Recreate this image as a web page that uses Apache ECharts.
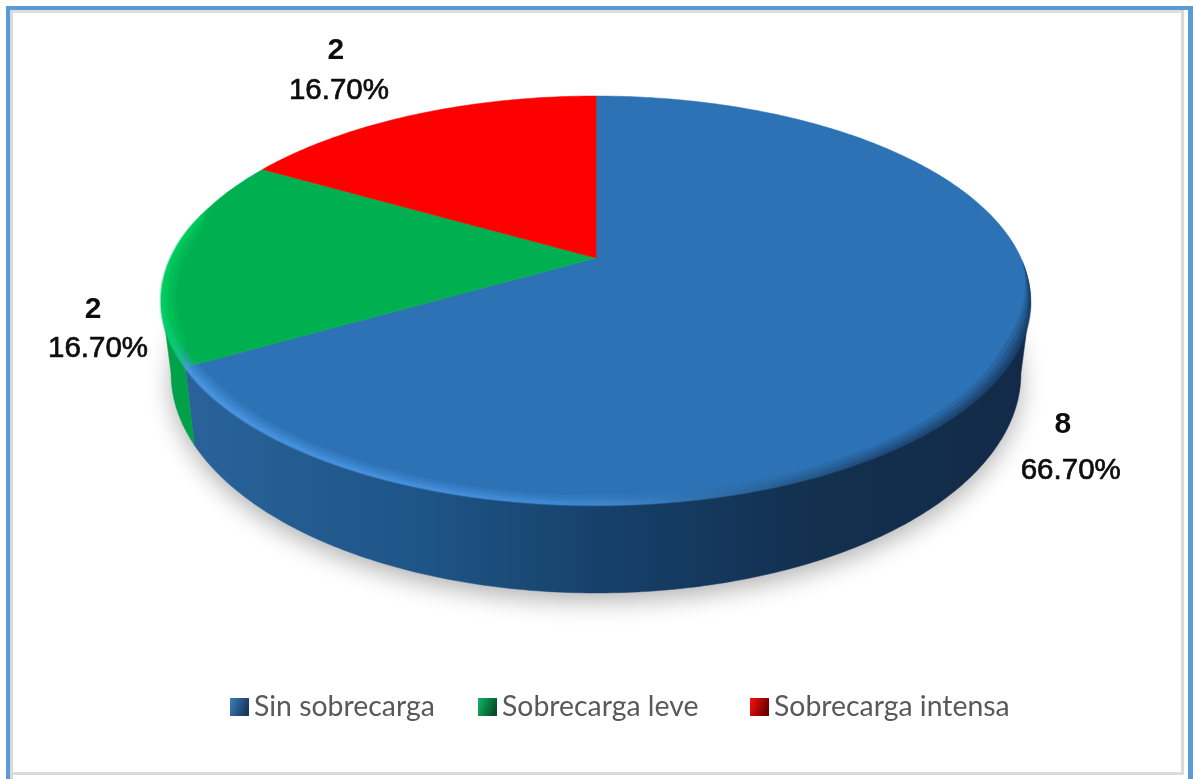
<!DOCTYPE html>
<html>
<head>
<meta charset="utf-8">
<style>html,body{margin:0;padding:0;background:#fff}#chart{width:1193px;height:779px}</style>
<script src="https://cdn.jsdelivr.net/npm/echarts@6/dist/echarts.min.js"></script>
</head>
<body>
<div id="chart"></div>
<script>
// Workload categories and their counts / stated shares
var categories = ['Sin sobrecarga', 'Sobrecarga leve', 'Sobrecarga intensa'];
var counts = [8, 2, 2];
var shareLabels = ['66.70%', '16.70%', '16.70%'];
var total = counts.reduce(function (a, b) { return a + b; }, 0);

// Perspective disc: centre of the pie, half width, vertical projective terms, wall depth
var disc = { cx: 596, A: 425, a: 142.05, b: 258, c: -0.2078, depth: 69.7, taper: 0.022 };
var silhouette = Math.acos(disc.c);            // angle where the rim turns away on the right

function project(theta, radius, drop) {
  var u = radius * Math.sin(theta), v = -radius * Math.cos(theta), w = 1 + disc.c * v;
  return [disc.cx + disc.A * u / w * (1 - disc.taper * drop), (disc.a * v + disc.b) / w + drop * disc.depth / w];
}
function arc(from, to, radius, drop) {
  var pts = [], n = Math.max(2, Math.ceil(Math.abs(to - from) / 0.012));
  for (var i = 0; i <= n; i++) pts.push(project(from + (to - from) * i / n, radius, drop));
  return pts;
}
function hGrad(stops) {
  return new echarts.graphic.LinearGradient(162, 0, 1030, 0, stops, true);
}
// Crescent along the rim: full width mid-way, vanishing at both ends
function crescent(from, to, width) {
  var outer = [], inner = [], n = Math.max(2, Math.ceil(Math.abs(to - from) / 0.012));
  for (var i = 0; i <= n; i++) {
    var t = i / n, th = from + (to - from) * t;
    var k = Math.min(1, Math.min(t, 1 - t) * 7);
    outer.push(project(th, 1 + width * k * 0.15, 0));
    inner.unshift(project(th, 1 - width * k, 0));
  }
  return outer.concat(inner);
}

// Per-slice looks
var looks = [
  {
    top: '#2c72b5',
    wall: hGrad([{ offset: 0, color: '#2a649c' }, { offset: 0.3, color: '#1e5587' }, { offset: 0.52, color: '#163f69' },
                 { offset: 0.75, color: '#13304f' }, { offset: 1, color: '#122a48' }]),
    bevel: hGrad([{ offset: 0, color: '#4d99e6' }, { offset: 0.35, color: '#4692e0' }, { offset: 0.52, color: '#3f88d0' },
                  { offset: 0.66, color: '#2c689f' }, { offset: 0.8, color: '#1f4a78' }, { offset: 1, color: '#17395f' }])
  },
  { top: '#00b050', wall: '#00a148', bevel: '#00d060' },
  { top: '#ff0000', wall: '#c00000', bevel: null }
];

// Text anchors relative to the slice's outer rim midpoint
var labelOffsets = [
  { count: [56, 58], share: [64, 104] },
  { count: [-78, 52], share: [-73, 91] },
  { count: [-80, -64], share: [-77, -24] }
];
var valueFont = '"Liberation Sans", Arial, sans-serif';

function sliceRenderer(index) {
  return function (params, api) {
    var before = counts.slice(0, index).reduce(function (a, b) { return a + b; }, 0);
    var start = before / total * Math.PI * 2;
    var end = start + api.value(0) / total * Math.PI * 2;
    var look = looks[index];
    var kids = [];

    // Soft cast shadow under the lowered sector
    kids.push({
      type: 'polygon', z2: 0, silent: true,
      shape: { points: [project(0, 0, 1)].concat(arc(start, end, 1, 1)) },
      style: { fill: '#d8d8d8', shadowBlur: 24, shadowOffsetY: 8, shadowColor: 'rgba(0,0,0,0.3)' }
    });

    // Side wall, only for the part of the rim that faces the viewer
    var wStart = Math.max(start, silhouette), wEnd = Math.min(end, Math.PI * 2 - silhouette);
    if (wEnd > wStart) {
      kids.push({
        type: 'polygon', z2: 1,
        shape: { points: arc(wStart, wEnd, 1, 0).concat(arc(wEnd, wStart, 1, 1)) },
        style: { fill: look.wall, stroke: look.wall, lineWidth: 0.5 }
      });
    }

    // Top face
    kids.push({
      type: 'polygon', z2: 2,
      shape: { points: [project(0, 0, 0)].concat(arc(start, end, 1, 0)) },
      style: { fill: look.top, stroke: look.top, lineWidth: 0.5 }
    });

    // Rounded highlight along the front edge of the top face, built from nested crescents
    if (look.bevel) {
      var bFrom = index === 0 ? silhouette - 0.2 : start;
      var bTo = index === 0 ? end + 0.35 : start + 0.8;
      [[0.032, 0.22], [0.022, 0.3], [0.013, 0.45], [0.006, 0.6]].forEach(function (layer) {
        kids.push({
          type: 'polygon', z2: 3, silent: true,
          shape: { points: crescent(bFrom, bTo, layer[0]) },
          style: { fill: look.bevel, opacity: layer[1] }
        });
      });
    }

    // Count and share printed next to the slice
    var anchor = project((start + end) / 2, 1, 0);
    var off = labelOffsets[index];
    kids.push({
      type: 'text', z2: 5,
      x: anchor[0] + off.count[0], y: anchor[1] + off.count[1],
      style: { text: String(api.value(0)), font: 'bold 30px ' + valueFont, fill: '#0d0d0d', align: 'center', verticalAlign: 'middle' }
    });
    kids.push({
      type: 'text', z2: 5,
      x: anchor[0] + off.share[0], y: anchor[1] + off.share[1],
      style: { text: shareLabels[index], font: '29.5px ' + valueFont, fill: '#0d0d0d', stroke: '#0d0d0d', lineWidth: 0.7, align: 'center', verticalAlign: 'middle' }
    });
    return { type: 'group', children: kids };
  };
}

var legendSwatches = [
  ['#3f7fbf', '#16385f'],
  ['#12b862', '#04502a'],
  ['#ff1010', '#6c0000']
];
var legendLefts = [225, 473, 745];

var chart = echarts.init(document.getElementById('chart'));
chart.setOption({
  animation: false,
  backgroundColor: '#ffffff',
  legend: categories.map(function (name, i) {
    return {
      left: legendLefts[i], top: 688,
      itemWidth: 19, itemHeight: 18, icon: 'rect', selectedMode: false,
      textStyle: { fontFamily: 'Lato, "Open Sans", sans-serif', fontSize: 28.4, color: '#595959' },
      data: [{
        name: name,
        itemStyle: { color: new echarts.graphic.LinearGradient(0, 0, 1, 0.4, [
          { offset: 0, color: legendSwatches[i][0] }, { offset: 1, color: legendSwatches[i][1] }]) }
      }]
    };
  }),
  graphic: [
    // Picture frame
    { type: 'rect', z: -5, shape: { x: 6, y: 6, width: 1182, height: 4 }, style: { fill: '#5b9bd5' } },
    { type: 'rect', z: -5, shape: { x: 6, y: 6, width: 4, height: 773 }, style: { fill: '#5b9bd5' } },
    { type: 'rect', z: -5, shape: { x: 1188, y: 6, width: 5, height: 773 }, style: { fill: '#5b9bd5' } },
    { type: 'rect', z: -5, shape: { x: 10, y: 10, width: 1174, height: 3 }, style: { fill: '#dedede' } },
    { type: 'rect', z: -5, shape: { x: 10, y: 10, width: 3, height: 769 }, style: { fill: '#d9d9d9' } },
    { type: 'rect', z: -5, shape: { x: 1181, y: 10, width: 3, height: 765 }, style: { fill: '#d9d9d9' } },
    { type: 'rect', z: -5, shape: { x: 13, y: 772, width: 1171, height: 3 }, style: { fill: '#dcdcdc' } }
  ],
  series: categories.map(function (name, i) {
    return {
      type: 'custom',
      name: name,
      coordinateSystem: 'none',
      itemStyle: { color: looks[i].top },
      renderItem: sliceRenderer(i),
      data: [[counts[i]]]
    };
  })
});
</script>
</body>
</html>
